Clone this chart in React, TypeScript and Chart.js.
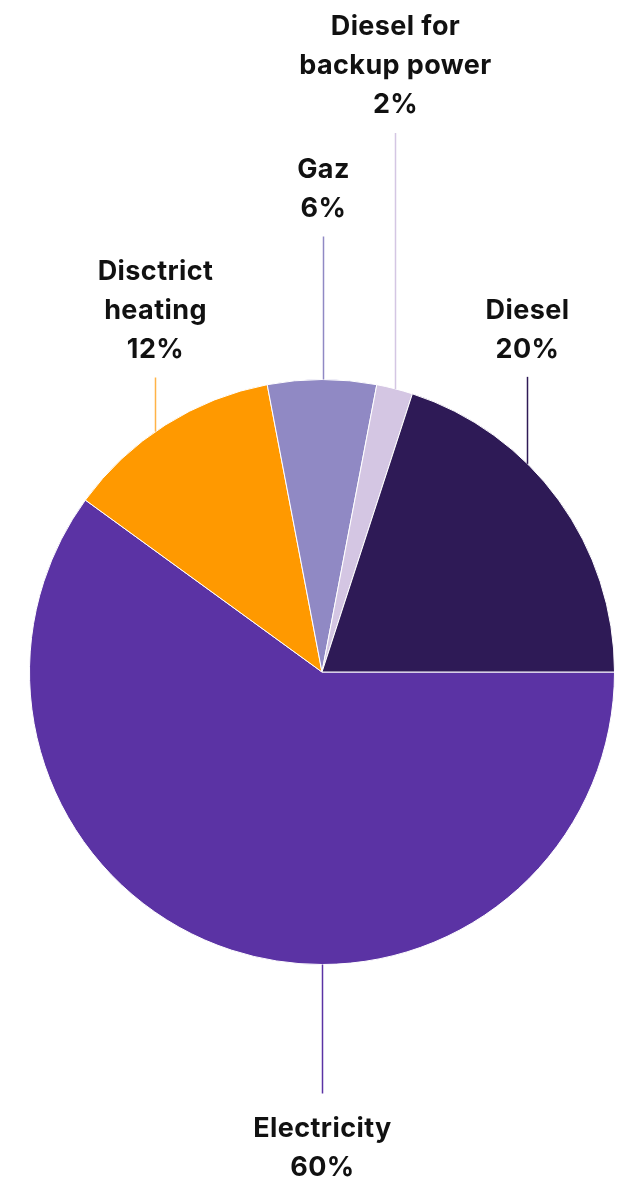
import React, { useEffect, useRef } from "react";
import { Chart, registerables } from "chart.js";

Chart.register(...registerables);

const categories = ["Electricity", "Disctrict heating", "Gaz", "Diesel for backup power", "Diesel"];
const shares = [60, 12, 6, 2, 20];
const colors = ["#5B33A4", "#FF9900", "#9089C4", "#D4C6E3", "#2E1A56"];
const lineColors = ["#5B33A4", "#FFB347", "#9089C4", "#D4C6E3", "#2E1A56"];
const labelLines = [
  ["Electricity", "60%"],
  ["Disctrict", "heating", "12%"],
  ["Gaz", "6%"],
  ["Diesel for", "backup power", "2%"],
  ["Diesel", "20%"],
];

// layout of the callouts: horizontal offset as a fraction of radius, side, leader length
const calloutLayout = [
  { dx: 0, side: "bottom", len: 129, gap: 35 },
  { dx: -0.572, side: "top", len: 54, gap: 28 },
  { dx: 0.003, side: "top", len: 143, gap: 28 },
  { dx: 0.25, side: "top", len: 256, gap: 28 },
  { dx: 0.702, side: "top", len: 87, gap: 27 },
];

const FONT = "700 27px Inter, 'Noto Sans', sans-serif";
const LINE_H = 39;

const calloutPlugin = {
  id: "callouts",
  afterDatasetsDraw(chart: any) {
    const ctx = chart.ctx;
    const meta = chart.getDatasetMeta(0);
    const arc = meta.data[0];
    if (!arc) return;
    const { x: cx, y: cy, outerRadius: r } = arc.getProps(["x", "y", "outerRadius"], true);
    ctx.save();
    ctx.font = FONT;
    try { (ctx as any).letterSpacing = "0.4px"; } catch (e) {}
    ctx.textAlign = "center";
    ctx.textBaseline = "middle";
    calloutLayout.forEach((c, i) => {
      const x = Math.round(cx + c.dx * r) + 0.5;
      const h = Math.sqrt(Math.max(r * r - (x - cx) * (x - cx), 0));
      const lines = labelLines[i];
      ctx.strokeStyle = lineColors[i];
      ctx.lineWidth = 1.5;
      ctx.beginPath();
      if (c.side === "top") {
        const y0 = cy - h;
        const y1 = y0 - c.len;
        ctx.moveTo(x, y0);
        ctx.lineTo(x, y1);
        ctx.stroke();
        ctx.fillStyle = "#111111";
        const last = y1 - c.gap;
        lines.forEach((t, k) => {
          ctx.fillText(t, x, last - (lines.length - 1 - k) * LINE_H);
        });
      } else {
        const y0 = cy + h;
        const y1 = y0 + c.len;
        ctx.moveTo(x, y0);
        ctx.lineTo(x, y1);
        ctx.stroke();
        ctx.fillStyle = "#111111";
        const first = y1 + c.gap;
        lines.forEach((t, k) => {
          ctx.fillText(t, x, first + k * LINE_H);
        });
      }
    });
    ctx.restore();
  },
};

export default function App() {
  const ref = useRef<HTMLCanvasElement | null>(null);
  useEffect(() => {
    if (!ref.current) return;
    const chart = new Chart(ref.current, {
      type: "pie",
      data: {
        labels: categories,
        datasets: [
          {
            data: shares,
            backgroundColor: colors,
            borderColor: "#ffffff",
            borderWidth: 1,
          },
        ],
      },
      options: {
        responsive: false,
        animation: false,
        rotation: 90,
        layout: { padding: { left: 29, right: 9, top: 379, bottom: 213 } },
        plugins: {
          legend: { display: false },
          tooltip: { enabled: false },
        },
      },
      plugins: [calloutPlugin],
    });
    return () => chart.destroy();
  }, []);
  return (
    <div style={{ position: "fixed", left: 0, top: 0, width: 624, height: 1178, background: "#fff" }}>
      <canvas ref={ref} width={624} height={1178} style={{ width: 624, height: 1178 }} />
    </div>
  );
}
